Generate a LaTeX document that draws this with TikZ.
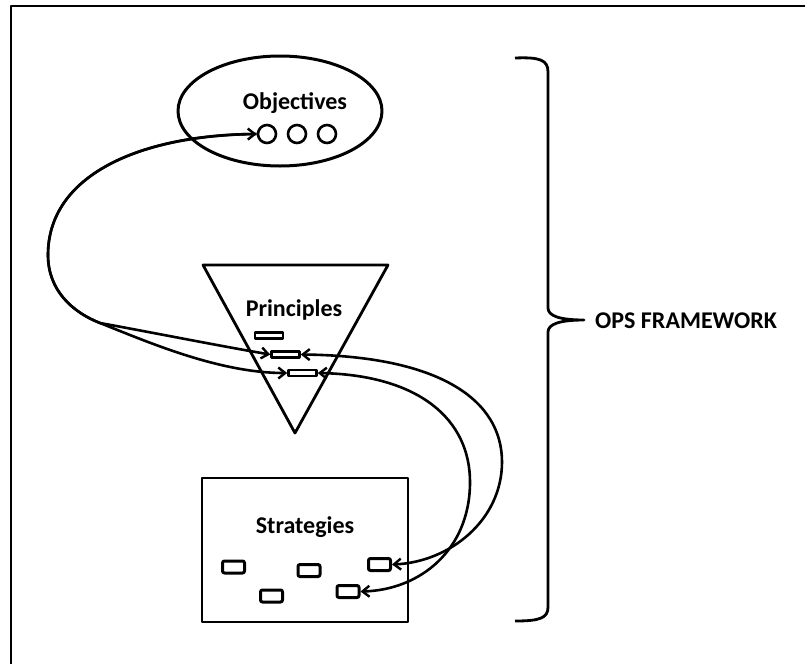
\documentclass[tikz,border=0pt]{standalone}
\usepackage{fontspec}
\setmainfont{Carlito}
\usetikzlibrary{arrows.meta,shapes.geometric}

\tikzset{
  lbl/.style={font=\bfseries\fontsize{24}{28}\selectfont, inner sep=0pt},
  dot/.style={circle, draw, line width=2.6pt, minimum size=18pt, inner sep=0pt},
  prect/.style={draw, line width=2.6pt, minimum width=28pt, minimum height=6pt, inner sep=0pt},
  srect/.style={draw, line width=3pt, rounded corners=2pt, minimum width=22pt, minimum height=12pt, inner sep=0pt},
  conn/.style={line width=2.6pt},
  tip/.tip={Straight Barb[length=7pt,width=11pt,line width=2.4pt]}
}

\begin{document}
\begin{tikzpicture}[x=1pt, y=-1pt, line join=round]
  \useasboundingbox (0,0) rectangle (805,664);

  % outer frame (runs off the page at right and bottom)
  \draw[line width=2.8pt] (805,6) -- (11,6) -- (11,664);

  % Objectives
  \node[draw, ellipse, line width=3pt, minimum width=204pt, minimum height=110pt] (obj) at (280,111) {};
  \node[lbl] (objlbl) at (295,103) {Objectives};
  \node[dot] (c1) at (267,134) {};
  \node[dot] (c2) at (297,134) {};
  \node[dot] (c3) at (327,134) {};

  % Principles
  \coordinate (tl) at (203,265);
  \coordinate (tr) at (388,265);
  \coordinate (tb) at (295,433);
  \draw[line width=2.8pt] (tl) -- (tr) -- (tb) -- cycle;
  \node[lbl] (prilbl) at (294,310) {Principles};
  \node[prect] (r1) at (269,335.5) {};
  \node[prect] (r2) at (285.5,354.5) {};
  \node[prect] (r3) at (302.5,373) {};

  % Strategies
  \node[draw, line width=2.8pt, minimum width=206pt, minimum height=144pt, inner sep=0pt] (str) at (305,550) {};
  \node[lbl] (strlbl) at (305,527) {Strategies};
  \node[srect] (s1) at (233.5,567) {};
  \node[srect] (s2) at (271.5,596) {};
  \node[srect] (s3) at (309,570.5) {};
  \node[srect] (s4) at (379.5,564.5) {};
  \node[srect] (s5) at (348,591.5) {};

  % connectors
  \coordinate (lm) at (48,255);
  \coordinate (br) at (100,323);
  \coordinate (bendB) at (502,462);
  \coordinate (bendC) at (470,482);

  \draw[conn, {tip}-{tip}] (c1.west) .. controls (140,135) and (48,175) .. (lm)
        .. controls (48,290) and (72,312) .. (br)
        .. controls (160,334) and (220,346) .. (r2.west);
  \draw[conn, -{tip}] (c1.west) .. controls (140,135) and (48,175) .. (lm)
        .. controls (48,290) and (72,312) .. (br)
        .. controls (150,343) and (220,373) .. (r3.west);

  \draw[conn, {tip}-{tip}] (r2.east) .. controls (440,356) and (502,400) .. (bendB)
        .. controls (502,520) and (450,562) .. (s4.east);
  \draw[conn, {tip}-{tip}] (r3.east) .. controls (420,375) and (470,420) .. (bendC)
        .. controls (470,550) and (420,590) .. (s5.east);

  % brace
  \draw[line width=2.8pt] (515,58) .. controls (540,57) and (548,60) .. (548,72)
        -- (548,308) .. controls (548,316) and (560,320) .. (584,320)
        .. controls (560,320) and (548,324) .. (548,332)
        -- (548,607) .. controls (548,618) and (540,621) .. (515,621);
  \node[lbl, anchor=west] (ops) at (595,321) {OPS FRAMEWORK};
\end{tikzpicture}
\end{document}
